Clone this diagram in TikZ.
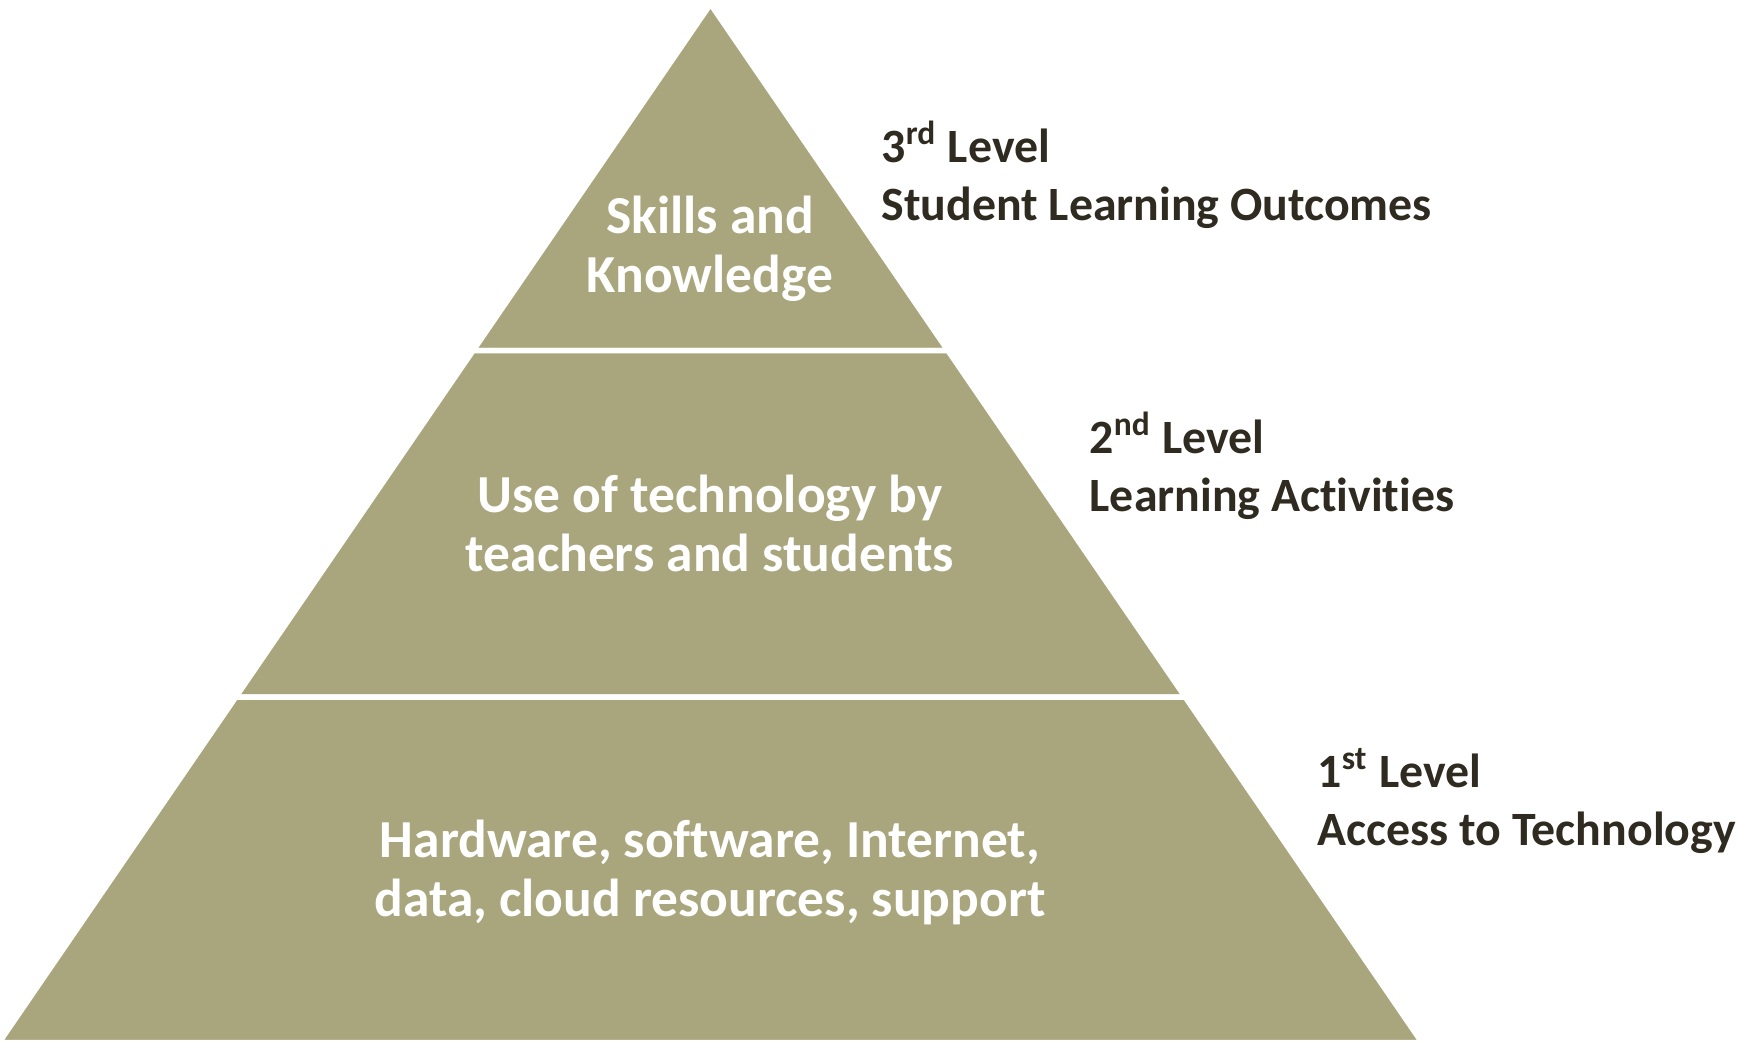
\documentclass[tikz,border=0pt]{standalone}
\usepackage{fontspec}
\setmainfont{Carlito}[Ligatures={NoCommon}]
\definecolor{pyr}{HTML}{A9A67D}
\definecolor{lbl}{HTML}{2F2B21}
\pgfdeclareradialshading{bgshade}{\pgfpoint{0bp}{0bp}}{color(0bp)=(white); color(29bp)=(white); color(40bp)=(black!11); color(50bp)=(black!15)}
\begin{document}
\begin{tikzpicture}[x=0.01cm,y=-0.01cm,
  tier/.style={fill=pyr, draw=white, line width=0.055cm, line join=miter},
  intext/.style={text=white, font=\fontsize{15.2}{16.8}\selectfont\bfseries, align=center, inner sep=0pt},
  lbltext/.style={text=lbl, font=\fontsize{13.6}{16.5}\selectfont\bfseries, align=left, anchor=west, inner sep=0pt}]
\useasboundingbox (0,0) rectangle (1748,1045);
\begin{scope}
  \clip (0,0) rectangle (1748,1045);
  \shade[shading=bgshade] (-530,-1020) rectangle (2270,1780);
\end{scope}
% tiers
\path[tier] (710.5,4) -- (947.9,350.5) -- (473.1,350.5) -- cycle;
\path[tier] (473.1,350.5) -- (947.9,350.5) -- (1185.2,697) -- (235.8,697) -- cycle;
\path[tier] (235.8,697) -- (1185.2,697) -- (1421.9,1042.5) -- (-0.9,1042.5) -- cycle;
% texts inside
\node[intext] (t3) at (710,249) {Skills and\\Knowledge};
\node[intext] (t2) at (710,523) {Use of technology by\\teachers and students};
\node[intext] (t1) at (710,872) {Hardware, software, Internet,\\data, cloud resources, support};
% labels
\node[lbltext] (l3) at (881,175) {3\textsuperscript{rd} Level\\Student Learning Outcomes};
\node[lbltext] (l2) at (1089,466) {2\textsuperscript{nd} Level\\Learning Activities};
\node[lbltext] (l1) at (1317,801) {1\textsuperscript{st} Level\\Access to Technology};
\end{tikzpicture}
\end{document}
